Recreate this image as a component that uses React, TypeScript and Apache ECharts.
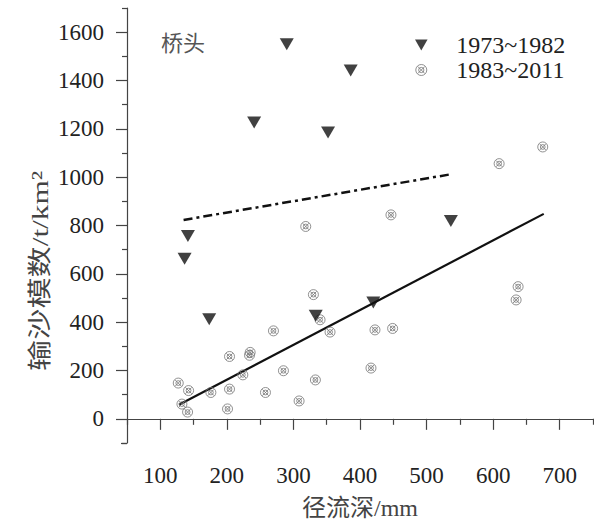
import React, { useEffect, useRef } from 'react';
import * as echarts from 'echarts';

// 1973~1982 (triangles)
const triRunoff = [290, 386, 241, 352, 141.5, 136.5, 173.5, 333.5, 420, 536.5];
const triSediment = [1550, 1441, 1226, 1185, 757, 662, 412, 427, 481, 819];
// 1983~2011 (circles)
const cirRunoff = [674.5, 609, 446.5, 318.5, 637.5, 634.5, 330, 340, 355, 422.5, 449, 270, 235, 234, 204, 285, 224, 416.5, 333, 127, 142.5, 176, 204, 258, 308.5, 201, 132.5, 141];
const cirSediment = [1125, 1056, 844, 796, 547, 492, 514, 410, 359, 368, 374, 364, 275, 263, 258, 199, 182, 210, 161, 148, 117, 109, 123, 109, 74, 41, 61, 28];
// fitted lines
const fitTriX = [135, 536.5];
const fitTriY = [823, 1012];
const fitCirX = [128, 676];
const fitCirY = [58, 848];
// ticks
const xMajor = [100, 200, 300, 400, 500, 600, 700];
const xMinor = [50, 150, 250, 350, 450, 550, 650, 750];
const yMajor = [0, 200, 400, 600, 800, 1000, 1200, 1400, 1600];
const yMinor = [-100, 100, 300, 500, 700, 900, 1100, 1300, 1500, 1700];

const legendNames = ['1973~1982', '1983~2011'];

const LATIN = 'Liberation Serif';
const SERIF = 'Liberation Serif, Noto Sans CJK SC, serif';
const AXIS = '#444';
const TRI_PATH = 'path://M0,0 L12,0 L6,10.5 Z';
const CIR_PATH = 'path://M5,0 A5,5 0 1,1 5,10 A5,5 0 1,1 5,0 Z M1.8,1.8 L8.2,8.2 M8.2,1.8 L1.8,8.2 M5,2.6 A2.4,2.4 0 1,1 5,7.4 A2.4,2.4 0 1,1 5,2.6 Z';

export default function App() {
  const ref = useRef<HTMLDivElement>(null);
  useEffect(() => {
    const chart = echarts.init(ref.current!, null, { renderer: 'svg' });
    const zip = (a: number[], b: number[]) => a.map((v, i) => [v, b[i]]);
    const plain = (v: number) => String(v);
    chart.setOption({
      animation: false,
      backgroundColor: '#fff',
      grid: { left: 127, right: 1, top: 8, bottom: 81 },
      legend: {
        orient: 'vertical',
        left: 410,
        top: 28,
        itemWidth: 60,
        itemHeight: 11,
        itemGap: 1,
        textStyle: { fontFamily: LATIN, fontSize: 24, color: '#222' },
        data: [
          { name: legendNames[0], icon: TRI_PATH, itemStyle: { color: '#111' } },
          { name: legendNames[1], icon: CIR_PATH, itemStyle: { color: 'rgba(0,0,0,0)', borderColor: '#777', borderWidth: 1 } },
        ],
      },
      xAxis: [
        {
          type: 'value', min: 50, max: 750, position: 'bottom',
          axisLine: { show: true, lineStyle: { color: AXIS, width: 1.2 } },
          axisTick: { show: true, length: 11, customValues: xMajor, lineStyle: { color: AXIS, width: 1.2 } },
          axisLabel: { customValues: xMajor, formatter: plain, margin: 21, fontSize: 23, fontFamily: LATIN, color: '#222' },
          splitLine: { show: false },
        },
        {
          type: 'value', min: 50, max: 750, position: 'bottom',
          axisLine: { show: false },
          axisTick: { show: true, length: 6, customValues: xMinor, lineStyle: { color: AXIS, width: 1.2 } },
          axisLabel: { show: false },
          splitLine: { show: false },
        },
      ],
      yAxis: [
        {
          type: 'value', min: -100, max: 1700, position: 'left',
          axisLine: { show: true, lineStyle: { color: AXIS, width: 1.2 } },
          axisTick: { show: true, length: 11, customValues: yMajor, lineStyle: { color: AXIS, width: 1.2 } },
          axisLabel: { customValues: yMajor, formatter: plain, margin: 23, fontSize: 23, fontFamily: LATIN, color: '#222' },
          splitLine: { show: false },
        },
        {
          type: 'value', min: -100, max: 1700, position: 'left',
          axisLine: { show: false },
          axisTick: { show: true, length: 5, customValues: yMinor, lineStyle: { color: AXIS, width: 1.2 } },
          axisLabel: { show: false },
          splitLine: { show: false },
        },
      ],
      graphic: [
        {
          type: 'text', left: 161, top: 30,
          style: { text: '桥头', font: '22px Noto Sans CJK SC, sans-serif', fill: '#555' },
        },
        {
          type: 'text', x: 40, y: 271, rotation: Math.PI / 2, scaleX: 1.3, scaleY: 1,
          style: { text: '输沙模数/t/km²', font: '24px ' + SERIF, fill: '#444', textAlign: 'center', textVerticalAlign: 'middle' },
        },
        {
          type: 'text', x: 360, y: 508,
          style: { text: '径流深/mm', font: '24px ' + SERIF, fill: '#444', textAlign: 'center', textVerticalAlign: 'middle' },
        },
        {
          type: 'line', shape: { x1: 121, y1: 443.5, x2: 127, y2: 443.5 },
          style: { stroke: AXIS, lineWidth: 1.2 },
        },
      ],
      series: [
        {
          name: legendNames[0], type: 'scatter', xAxisIndex: 0, yAxisIndex: 0,
          symbol: 'triangle', symbolRotate: 180, symbolSize: [14, 12],
          itemStyle: { color: '#111' }, z: 4,
          data: zip(triRunoff, triSediment),
        },
        {
          name: legendNames[1], type: 'scatter', xAxisIndex: 0, yAxisIndex: 0,
          symbol: CIR_PATH, symbolSize: 10, symbolKeepAspect: true,
          itemStyle: { color: 'rgba(0,0,0,0)', borderColor: '#777', borderWidth: 1 }, z: 3,
          data: zip(cirRunoff, cirSediment),
        },
        {
          name: 'fit1', type: 'line', xAxisIndex: 0, yAxisIndex: 0,
          showSymbol: false, silent: true, z: 2,
          lineStyle: { color: '#111', width: 2.5, type: [9, 4, 3, 4] },
          data: zip(fitTriX, fitTriY),
        },
        {
          name: 'fit2', type: 'line', xAxisIndex: 0, yAxisIndex: 0,
          showSymbol: false, silent: true, z: 2,
          lineStyle: { color: '#111', width: 2.2 },
          data: zip(fitCirX, fitCirY),
        },
      ],
    });
    return () => chart.dispose();
  }, []);
  return <div ref={ref} style={{ position: 'fixed', left: 0, top: 0, width: 594, height: 524, background: '#fff' }} />;
}
